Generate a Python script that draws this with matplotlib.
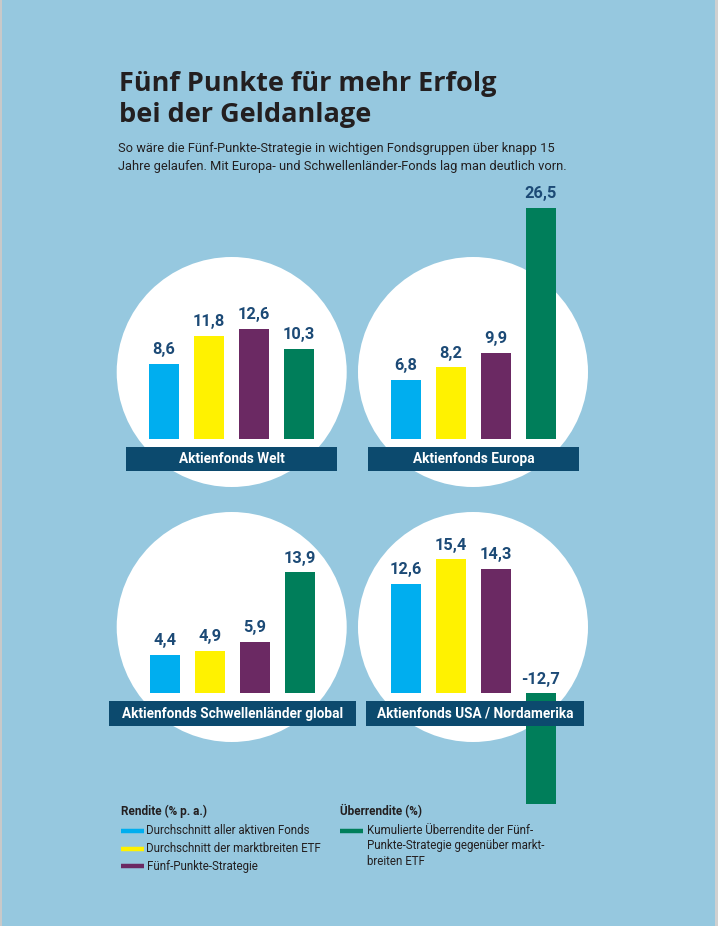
import matplotlib.pyplot as plt
from matplotlib.patches import Circle, Rectangle

W, H = 718, 926

# data
panels = ["Aktienfonds Welt", "Aktienfonds Europa",
          "Aktienfonds Schwellenländer global", "Aktienfonds USA / Nordamerika"]
aktive_fonds = [8.6, 6.8, 4.4, 12.6]
marktbreite_etf = [11.8, 8.2, 4.9, 15.4]
fuenf_punkte = [12.6, 9.9, 5.9, 14.3]
ueberrendite = [10.3, 26.5, 13.9, -12.7]

rendite_labels = ["Durchschnitt aller aktiven Fonds",
                  "Durchschnitt der marktbreiten ETF",
                  "Fünf-Punkte-Strategie"]
ueber_label = "Kumulierte Überrendite der Fünf-\nPunkte-Strategie gegenüber markt-\nbreiten ETF"

title_lines = ["Fünf Punkte für mehr Erfolg", "bei der Geldanlage"]
subtitle_lines = ["So wäre die Fünf-Punkte-Strategie in wichtigen Fondsgruppen über knapp 15",
                  "Jahre gelaufen. Mit Europa- und Schwellenländer-Fonds lag man deutlich vorn."]

# styles
bg = "#96c8df"
colors = ["#00aeef", "#fff200", "#6b2963", "#007e5a"]
box_col = "#0c4a6e"
val_col = "#1c4a76"
txt_col = "#231f20"

plt.rcParams["font.family"] = ["Roboto", "DejaVu Sans"]

# layout in pixels: circle centre, bar-axes left, baseline, label box
geo = [
    dict(cx=231.7, cy=372, left=141.5, base=438.7, box=(126, 446.7, 211, 24)),
    dict(cx=473, cy=372, left=383.5, base=438.7, box=(368, 446.7, 211, 24)),
    dict(cx=231.7, cy=627, left=142.5, base=693.3, box=(109, 701, 247, 25)),
    dict(cx=473, cy=627, left=383.5, base=693.3, box=(366, 701, 218, 25)),
]
scale = 8.7          # px per percent point
ymin, ymax = -14, 28
radius = 115


def px_axes(fig, left, top, width, height, **kw):
    return fig.add_axes([left / W, 1 - (top + height) / H, width / W, height / H], **kw)


fig = plt.figure(figsize=(W / 100, H / 100), dpi=100)
fig.patch.set_facecolor(bg)

# background layer: circles
back = px_axes(fig, 0, 0, W, H)
back.set_xlim(0, W)
back.set_ylim(H, 0)
back.axis("off")
for g in geo:
    back.add_patch(Circle((g["cx"], g["cy"]), radius, color="white", lw=0))
back.add_patch(Rectangle((0, 0), 2, H, color="#c9c9c9", lw=0))
back.add_patch(Rectangle((715, 0), 3, H, color="#d0d0d0", lw=0))

# bar panels
for k, g in enumerate(geo):
    vals = [aktive_fonds[k], marktbreite_etf[k], fuenf_punkte[k], ueberrendite[k]]
    ax = px_axes(fig, g["left"], g["base"] - ymax * scale, 180, (ymax - ymin) * scale)
    ax.patch.set_alpha(0)
    ax.bar(range(4), vals, width=30 / 45, color=colors)
    ax.set_xlim(-0.5, 3.5)
    ax.set_ylim(ymin, ymax)
    ax.axis("off")
    for i, v in enumerate(vals):
        ax.annotate(f"{v:.1f}".replace(".", ","), xy=(i, max(v, 0)),
                    xytext=(0, 7), textcoords="offset points",
                    ha="center", va="baseline", fontsize=11.8,
                    fontweight="bold", color=val_col)

# front layer: label boxes, titles, legend
front = px_axes(fig, 0, 0, W, H)
front.patch.set_alpha(0)
front.set_xlim(0, W)
front.set_ylim(H, 0)
front.axis("off")
for k, g in enumerate(geo):
    x, y, w, h = g["box"]
    front.add_patch(Rectangle((x, y), w, h, color=box_col, lw=0))
    front.text(x + w / 2, y + h / 2 + 0.5, panels[k], ha="center", va="center",
               color="white", fontsize=9.8, fontweight="bold")

for i, line in enumerate(title_lines):
    front.text(119, 91 + i * 31, line, ha="left", va="baseline", fontsize=19.5,
               fontweight="bold", color=txt_col, family=["Open Sans", "DejaVu Sans"])
for i, line in enumerate(subtitle_lines):
    front.text(118, 152 + i * 17.6, line, ha="left", va="baseline", fontsize=9.3,
               color=txt_col)

front.text(121, 811, "Rendite (% p. a.)", ha="left", va="center",
           fontsize=8.5, fontweight="bold", color=txt_col)
front.text(340, 811, "Überrendite (%)", ha="left", va="center",
           fontsize=8.5, fontweight="bold", color=txt_col)
for i, lab in enumerate(rendite_labels):
    yy = 831 + i * 17.6
    front.plot([121, 143.5], [yy, yy], color=colors[i], lw=3.2, solid_capstyle="butt")
    front.text(146.5, yy, lab, ha="left", va="center", fontsize=8.3, color=txt_col)
front.plot([340, 363], [831, 831], color=colors[3], lw=3.2, solid_capstyle="butt")
front.text(367, 823.5, ueber_label, ha="left", va="top", fontsize=8.3,
           color=txt_col, linespacing=1.28)

fig.savefig("out.png", dpi=100, facecolor=bg)
